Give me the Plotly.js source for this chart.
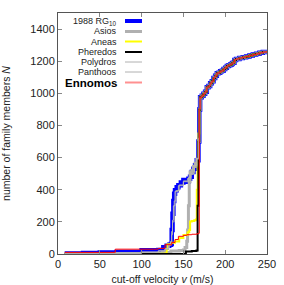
<!DOCTYPE html>
<html><head><meta charset="utf-8">
<script src="https://cdn.plot.ly/plotly-3.0.1.min.js"></script>
<style>html,body{margin:0;padding:0;background:#fff}#c{width:284px;height:285px}</style>
</head><body><div id="c"></div>
<script>
// shared upper part of all curves (v in m/s, N members)
const sharedV = [170, 172, 174, 176, 178, 180, 182, 184, 186, 188, 190, 192, 194, 196, 198, 200, 202, 204, 206, 208, 209, 211, 213, 217, 221, 225, 229, 233, 237, 241, 245, 250];
const sharedN = [975, 985, 997, 1010, 1038, 1045, 1063, 1075, 1096, 1110, 1125, 1128, 1137, 1140, 1152, 1160, 1170, 1175, 1180, 1185, 1190, 1208, 1214, 1220, 1225, 1230, 1235, 1241, 1246, 1252, 1257, 1262];

const rgV = [8, 30, 50, 70, 94, 100, 120, 126, 130, 133, 135, 136, 137, 138, 139, 140, 142, 144, 147, 150, 152, 154, 156, 158, 160, 162, 164, 166, 168, 169];
const rgN = [3, 6, 10, 12, 12, 23, 25, 42, 52, 58, 62, 150, 250, 330, 375, 397, 415, 428, 445, 460, 455, 450, 468, 481, 510, 530, 553, 584, 700, 900];

const asiosV = [8, 50, 100, 125, 135, 145, 150, 152, 154, 155, 156, 157, 158, 160, 162, 164, 166, 168, 169];
const asiosN = [2, 3, 5, 10, 18, 22, 25, 40, 80, 150, 300, 450, 510, 520, 545, 565, 590, 700, 900];

const aneasV = [8, 100, 128, 130, 131, 135, 140, 145, 150, 155, 157, 158, 160, 163, 165, 166, 167, 168, 169];
const aneasN = [0, 1, 3, 30, 60, 70, 78, 100, 118, 135, 150, 202, 205, 210, 215, 400, 570, 750, 900];

const pheredosV = [8, 100, 152, 153, 160, 165, 166, 167, 168, 169];
const pheredosN = [0, 0, 1, 15, 18, 20, 22, 300, 700, 900];

const polydrosV = [8, 50, 100, 120, 128, 132, 135, 136, 137, 139, 141, 145, 150, 155, 158, 162, 166, 168, 169];
const polydrosN = [1, 4, 10, 18, 30, 55, 75, 120, 200, 330, 395, 430, 455, 470, 495, 540, 590, 700, 900];

const panthoosV = [8, 50, 100, 120, 128, 133, 135, 136, 137, 138, 140, 144, 150, 156, 159, 163, 166, 168, 169];
const panthoosN = [2, 5, 12, 20, 35, 60, 80, 140, 210, 300, 390, 425, 450, 475, 500, 550, 595, 720, 900];

const ennomosV = [8, 68, 68.5, 114, 120, 128, 136, 140, 144, 150, 154, 160, 166, 168.5, 169];
const ennomosN = [10, 10, 30, 30, 35, 58, 72, 90, 110, 116, 120, 123, 126, 130, 900];

const names = ['1988 RG<sub>10</sub>', 'Asios', 'Aneas', 'Pheredos', 'Polydros', 'Panthoos', '<b>Ennomos</b>'];
const series = [[rgV, rgN], [asiosV, asiosN], [aneasV, aneasN], [pheredosV, pheredosN], [polydrosV, polydrosN], [panthoosV, panthoosN], [ennomosV, ennomosN]];
const colors = ['#0000ff', '#b0b0b0', '#ffff00', '#000000', '#a8a8a8', '#b8b8b8', '#ff0000'];
const widths = [4.5, 3, 2, 2, 1, 1, 1];
const legWidths = [4, 3, 2, 2, 1, 1, 2];
const legColors = ['#0000ff', '#b0b0b0', '#ffff00', '#000000', '#b0b0b0', '#b0b0b0', '#ff9090'];

const traces = series.map((s, i) => ({
  x: s[0].concat(sharedV), y: s[1].concat(sharedN), type: 'scatter', mode: 'lines',
  name: names[i], line: {color: colors[i], width: widths[i], shape: 'hv'}, showlegend: false, hoverinfo: 'skip'
}));

const rowY = [21, 31.5, 41.5, 52, 62, 72, 82.5];
const L = 58, R = 267, T = 13, B = 254;
const px = v => (v - L) / (R - L), py = v => (B - v) / (B - T);
const annotations = names.map((n, i) => ({
  xref: 'paper', yref: 'paper', x: px(119), y: py(rowY[i]), xanchor: 'right', yanchor: 'middle',
  text: n, showarrow: false,
  font: {family: 'Liberation Sans, Arial, sans-serif', size: i === 6 ? 11.5 : 9, color: i === 6 ? '#000' : '#222'}
}));
const shapes = names.map((n, i) => ({
  type: 'line', xref: 'paper', yref: 'paper', x0: px(125), x1: px(142), y0: py(rowY[i]), y1: py(rowY[i]),
  line: {color: legColors[i], width: legWidths[i]}
}));

const ax = {
  showgrid: false, zeroline: false, showline: true, linecolor: '#555', linewidth: 1, mirror: 'ticks',
  ticks: 'inside', ticklen: 4, tickcolor: '#888', tickwidth: 1,
  tickfont: {family: 'Liberation Sans, Arial, sans-serif', size: 11, color: '#222'}
};
const layout = {
  width: 284, height: 285, margin: {l: L, r: 284 - R, t: T, b: 285 - B},
  paper_bgcolor: '#fff', plot_bgcolor: '#fff', showlegend: false,
  xaxis: Object.assign({}, ax, {range: [0, 250], tickvals: [0, 50, 100, 150, 200, 250],
    title: {text: 'cut-off velocity <i>v</i> (m/s)', standoff: 10, font: {family: 'Liberation Sans, Arial, sans-serif', size: 10.5, color: '#222'}}}),
  yaxis: Object.assign({}, ax, {range: [0, 1500], tickvals: [0, 200, 400, 600, 800, 1000, 1200, 1400],
    title: {text: 'number of family members <i>N</i>', standoff: 17, font: {family: 'Liberation Sans, Arial, sans-serif', size: 10.5, color: '#222'}}}),
  annotations: annotations, shapes: shapes
};
Plotly.newPlot('c', traces, layout, {staticPlot: true, displayModeBar: false});
</script></body></html>
